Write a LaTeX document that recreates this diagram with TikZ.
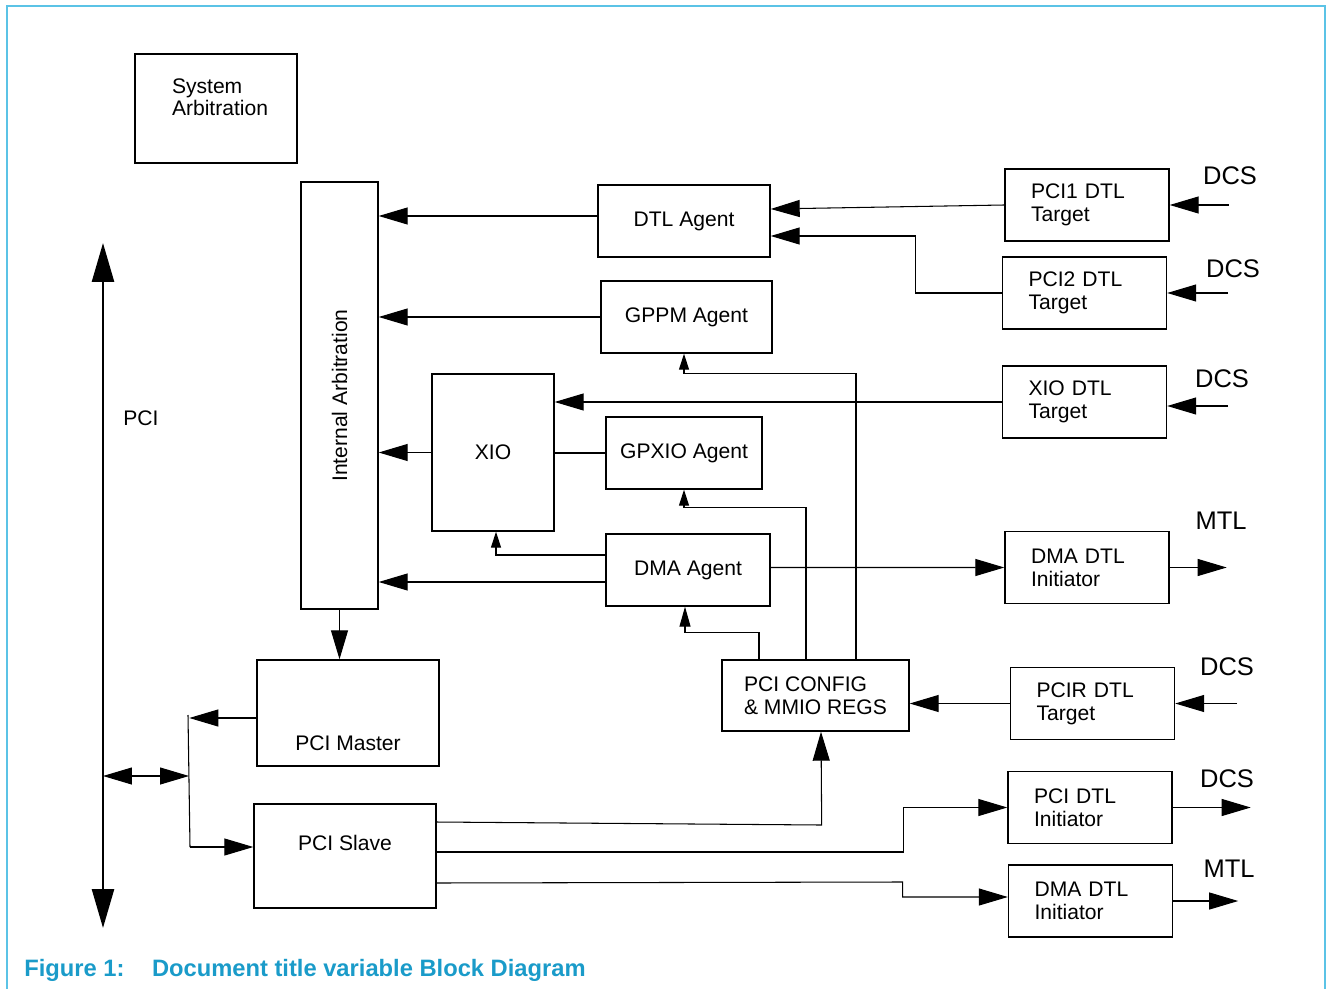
\documentclass[tikz,border=0pt]{standalone}
\usepackage{fontspec}
\setmainfont{Liberation Sans}
\usetikzlibrary{arrows.meta}
\definecolor{framecol}{HTML}{5BC3E6}
\definecolor{captioncol}{HTML}{1A9BC9}

\begin{document}
\begin{tikzpicture}[
        x=0.02cm, y=-0.02cm,
        font=\fontsize{12}{13}\selectfont,
        block/.style={rectangle, draw, line width=0.8pt, minimum height=1.44cm, align=center, inner sep=0pt},
        dtlbox/.style={rectangle, draw, line width=0.8pt, minimum width=3.28cm, minimum height=1.44cm, inner xsep=0.52cm, inner ysep=0pt, text width=2.24cm, align=left},
        busname/.style={font=\fontsize{14.5}{15}\selectfont},
        line/.style={line width=0.6pt},
        arrow/.style={-{Triangle[length=0.58cm, width=0.34cm]}, line width=0.6pt},
        arrowmid/.style={-{Triangle[length=0.4cm, width=0.22cm]}, line width=0.6pt},
        arrowsmall/.style={-{Triangle[length=0.32cm, width=0.2cm]}, line width=0.6pt},
        biarrow/.style={{Triangle[length=0.58cm, width=0.34cm]}-{Triangle[length=0.58cm, width=0.34cm]}, line width=0.6pt},
        busarrow/.style={{Triangle[length=0.78cm, width=0.44cm]}-{Triangle[length=0.78cm, width=0.44cm]}, line width=1.5pt}
    ]
        \useasboundingbox (0,0) rectangle (1327,989);
        \draw[framecol, line width=1pt] (7,989) -- (7,6) -- (1325,6) -- (1325,989);

        % Nodes
        \node[block, minimum width=3.24cm, minimum height=2.18cm, inner xsep=0.74cm, text width=1.76cm, align=left] (sysarb) at (216,108.5) {System\\Arbitration\\~};
        \node[block, minimum width=1.54cm, minimum height=8.54cm] (intarb) at (339.5,395.5) {\rotatebox{90}{Internal Arbitration}};

        \node[block, minimum width=3.44cm] (dtl) at (684,221) {DTL Agent};
        \node[block, minimum width=3.42cm] (gppm) at (686.5,317) {GPPM Agent};
        \node[block, minimum width=2.44cm, minimum height=3.14cm] (xio) at (493,452.5) {XIO};
        \node[block, minimum width=3.12cm] (gpxio) at (684,453) {GPXIO Agent};
        \node[block, minimum width=3.28cm] (dmaag) at (688,570) {DMA Agent};

        \node[block, minimum width=3.64cm, minimum height=2.12cm, text height=1.8cm, text depth=0.32cm] (pcimaster) at (348,713) {PCI Master};
        \node[block, minimum width=3.64cm, minimum height=2.08cm, text height=0.92cm, text depth=1.16cm] (pcislave) at (345,856) {PCI Slave};
        \node[block, minimum width=3.74cm, minimum height=1.42cm, align=left] (regs) at (815.5,695.5) {PCI CONFIG\\\& MMIO REGS};

        \node[dtlbox] (pci1t) at (1087,205) {PCI1 DTL\\Target};
        \node[dtlbox] (pci2t) at (1084.5,293) {PCI2 DTL\\Target};
        \node[dtlbox] (xiot) at (1084.5,402) {XIO DTL\\Target};
        \node[dtlbox] (dmai1) at (1087,567.5) {DMA DTL\\Initiator};
        \node[dtlbox] (pcirt) at (1092.5,703.5) {PCIR DTL\\Target};
        \node[dtlbox] (pcii) at (1090,807.5) {PCI DTL\\Initiator};
        \node[dtlbox] (dmai2) at (1090.5,901) {DMA DTL\\Initiator};

        \node[busname] (dcsa) at (1230,176) {DCS};
        \node[busname] (dcsb) at (1233,269) {DCS};
        \node[busname] (dcsc) at (1222,379) {DCS};
        \node[busname] (mtla) at (1221,521) {MTL};
        \node[busname] (dcsd) at (1227,667) {DCS};
        \node[busname] (dcse) at (1227,779) {DCS};
        \node[busname] (mtlb) at (1229,869) {MTL};
        \node (pcilabel) at (141,418) {PCI};

        \node[anchor=west, inner sep=0pt, text=captioncol, font=\fontsize{13.5}{15}\selectfont\bfseries] (caption) at (24,970) {Figure 1:\hspace{0.55cm}Document title variable Block Diagram};

        % PCI bus
        \coordinate (bustop) at (103,243);
        \coordinate (busbot) at (103,928);
        \coordinate (bustap) at (103,776);
        \coordinate (fork) at (189,776);
        \coordinate (forktop) at (188,715);
        \coordinate (forkbot) at (190,847);

        \draw[busarrow] (busbot) -- (bustop);
        \draw[biarrow] (bustap) -- (fork);
        \draw[line] (forktop) -- (forkbot);
        \draw[arrow] ([yshift=-0.1cm]pcimaster.west) -- ++(-67,0);
        \draw[arrow] (forkbot) -- (forkbot -| pcislave.west);

        % Edges
        \draw[arrow] ([yshift=0.1cm]dtl.west) -- ([yshift=0.1cm]dtl.west -| intarb.east);
        \draw[arrow] (gppm.west) -- (gppm.west -| intarb.east);
        \draw[arrow] (xio.west) -- (xio.west -| intarb.east);
        \draw[arrow] ([yshift=-0.24cm]dmaag.west) -- ([yshift=-0.24cm]dmaag.west -| intarb.east);
        \draw[arrow] (intarb.south) -- (intarb.south |- pcimaster.north);
        \draw[line] (gpxio.west) -- (gpxio.west -| xio.east);
        \draw[arrowsmall] ([yshift=0.3cm]dmaag.west) -| ([xshift=0.06cm]xio.south);
        \draw[arrow] (xiot.west) -- (xiot.west -| xio.east);
        \draw[arrow] (pci1t.west) -- ([yshift=0.24cm]dtl.east);
        \draw[arrow] (pci2t.west) -- ++(-86,0) |- ([yshift=-0.3cm]dtl.east);
        \draw[arrow] ([yshift=0.05cm]dmaag.east) -- (dmai1.west);

        \draw[arrowsmall] ([xshift=0.81cm]regs.north) -- ++(0,-286) -| ([xshift=-0.05cm]gppm.south);
        \draw[arrowsmall] ([xshift=-0.19cm]regs.north) -- ++(0,-152) -| (gpxio.south);
        \draw[arrowmid] ([xshift=-1.13cm]regs.north) -- ++(0,-27) -| ([xshift=-0.06cm]dmaag.south);
        \draw[arrow] (pcirt.west) -- (pcirt.west -| regs.east);

        \draw[arrow] ([yshift=0.68cm]pcislave.east) -- ++(385,3) -- ([xshift=0.11cm]regs.south);
        \draw[arrow] ([yshift=0.08cm]pcislave.east) -- ++(467,0) |- (pcii.west);
        \draw[arrow] ([yshift=-0.54cm]pcislave.east) -- ++(466,-1) |- ([yshift=0.08cm]dmai2.west);

        \draw[arrow] ([xshift=1.18cm]pci1t.east) -- (pci1t.east);
        \draw[arrow] ([xshift=1.22cm]pci2t.east) -- (pci2t.east);
        \draw[arrow] ([xshift=1.22cm, yshift=-0.08cm]xiot.east) -- ([yshift=-0.08cm]xiot.east);
        \draw[arrow] ([xshift=1.24cm]pcirt.east) -- (pcirt.east);
        \draw[arrow] (dmai1.east) -- ++(57,0);
        \draw[arrow] (pcii.east) -- ++(78,0);
        \draw[arrow] (dmai2.east) -- ++(65,0);

\end{tikzpicture}
\end{document}
